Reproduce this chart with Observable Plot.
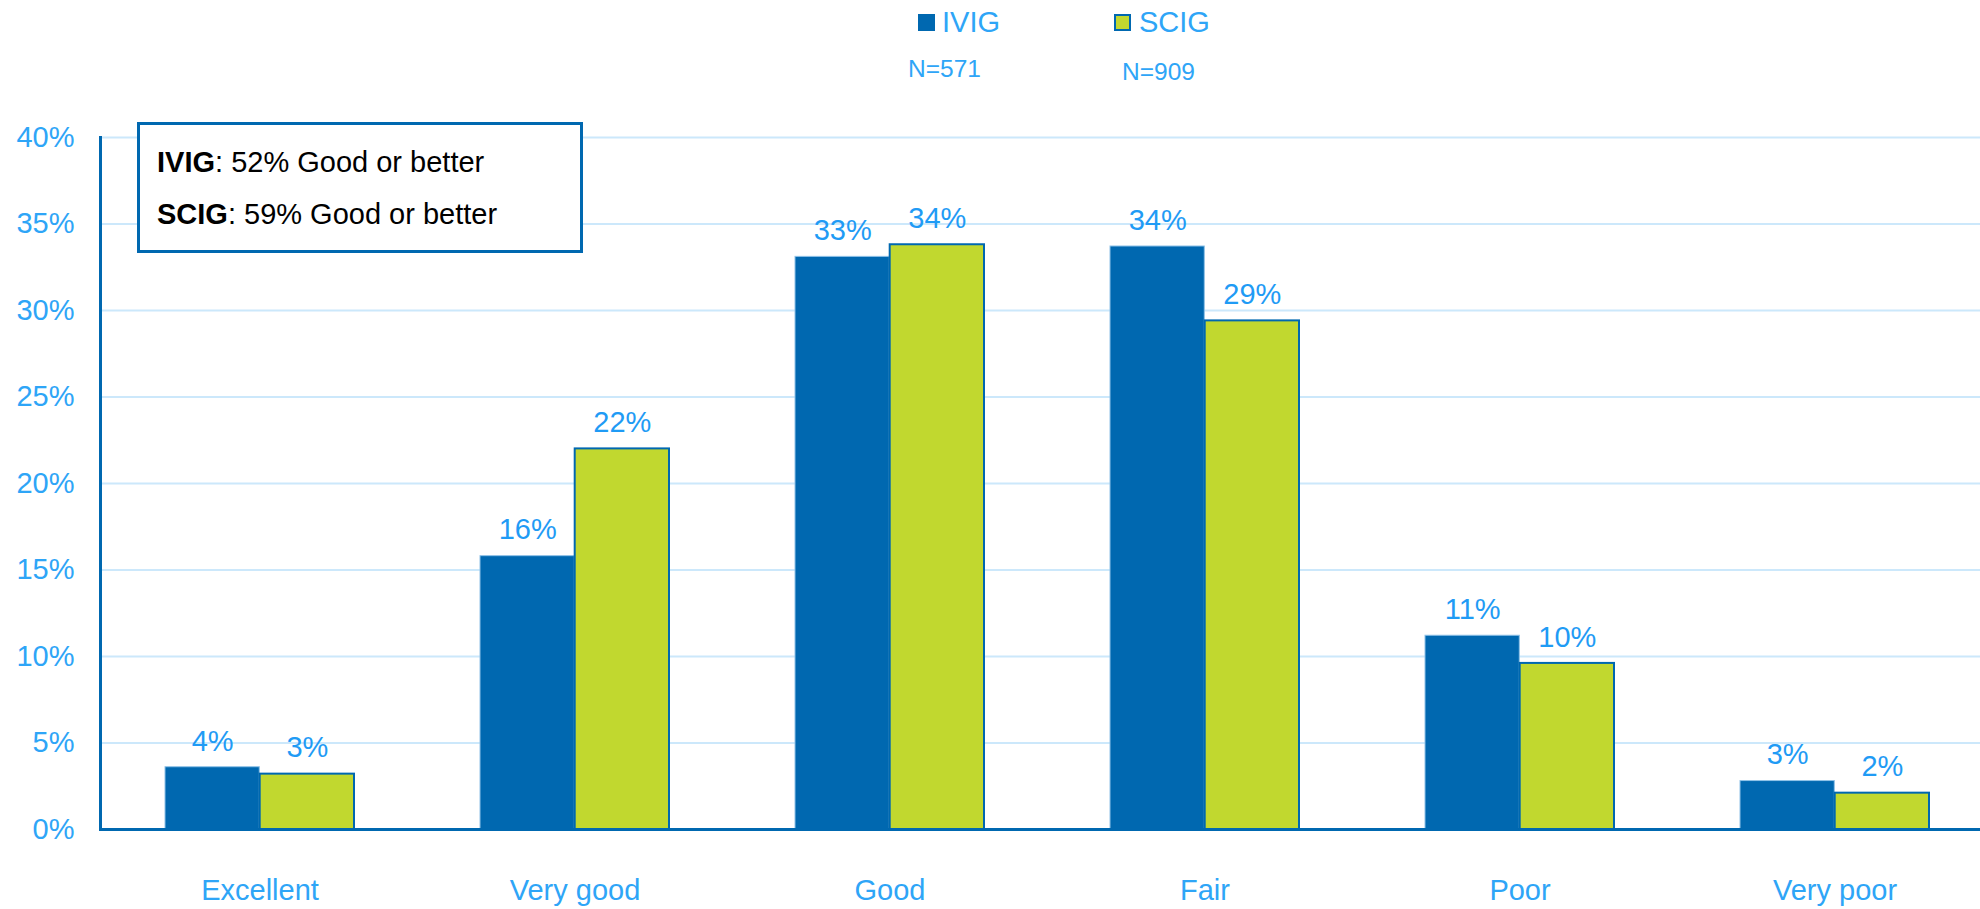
<!DOCTYPE html>
<html>
<head>
<meta charset="utf-8">
<script src="https://cdn.jsdelivr.net/npm/d3@7"></script>
<script src="https://cdn.jsdelivr.net/npm/@observablehq/plot@0.6"></script>
<style>
  html, body { margin: 0; padding: 0; background: #fff; }
  #wrap { position: relative; width: 1980px; height: 909px; font-family: "Liberation Sans", Arial, sans-serif; overflow: hidden; }
  #chart { position: absolute; left: 0; top: 0; }
  .leg { position: absolute; color: #2ea5f7; white-space: nowrap; line-height: 1; }
  .sw { position: absolute; width: 17px; height: 17px; box-sizing: border-box; }
  #note { position: absolute; left: 137px; top: 122px; width: 446px; height: 131px; box-sizing: border-box;
          border: 3px solid #0068b0; background: #fff; color: #000; font-size: 29px; }
  #note div { position: absolute; left: 17px; white-space: nowrap; line-height: 1; }
</style>
</head>
<body>
<div id="wrap">
  <div id="chart"></div>
  <div class="sw" style="left:918px; top:14px; background:#0068b0;"></div>
  <div class="leg" id="l1" style="left:942px; top:8px; font-size:29px;"></div>
  <div class="sw" style="left:1114px; top:14px; background:#c1d82f; border:2px solid #0068b0;"></div>
  <div class="leg" id="l2" style="left:1139px; top:8px; font-size:29px;"></div>
  <div class="leg" id="n1" style="left:908px; top:57px; font-size:24.5px;"></div>
  <div class="leg" id="n2" style="left:1122px; top:60px; font-size:24.5px;"></div>
  <div id="note">
    <div id="t1" style="top:23px;"></div>
    <div id="t2" style="top:75px;"></div>
  </div>
</div>
<script>
const categories = ["Excellent", "Very good", "Good", "Fair", "Poor", "Very poor"];
const seriesNames = ["IVIG", "SCIG"];
const sampleSizes = ["N=571", "N=909"];
const ivigValues = [3.6, 15.8, 33.1, 33.7, 11.2, 2.8];
const scigValues = [3.2, 22.0, 33.8, 29.4, 9.6, 2.1];
const valueLabels = {
  IVIG: ["4%", "16%", "33%", "34%", "11%", "3%"],
  SCIG: ["3%", "22%", "34%", "29%", "10%", "2%"]
};
const noteLines = [
  {bold: "IVIG", rest: ": 52% Good or better"},
  {bold: "SCIG", rest: ": 59% Good or better"}
];
const yTicks = [0, 5, 10, 15, 20, 25, 30, 35, 40];

const rows = [];
categories.forEach((c, i) => {
  rows.push({category: c, series: "IVIG", value: ivigValues[i], label: valueLabels.IVIG[i]});
  rows.push({category: c, series: "SCIG", value: scigValues[i], label: valueLabels.SCIG[i]});
});
const ivigRows = rows.filter(d => d.series === "IVIG");
const scigRows = rows.filter(d => d.series === "SCIG");

const W = 1980, H = 909;
const mL = 100, mR = -14;
const step = (W - mL - mR) / categories.length;
const bw = step * 0.6;
const half = bw / 2;

const labelColor = "#2ea5f7";
const dark = "#0068b0";

const chart = Plot.plot({
  width: W,
  height: H,
  marginLeft: mL,
  marginRight: mR,
  marginTop: 137,
  marginBottom: 80,
  style: {fontFamily: "Liberation Sans, Arial, sans-serif", background: "transparent"},
  x: {type: "band", domain: categories, paddingInner: 0.4, paddingOuter: 0.2, label: null},
  y: {domain: [0, 40], label: null},
  marks: [
    Plot.gridY(yTicks, {stroke: "#cce8fb", strokeOpacity: 1, strokeWidth: 2}),
    Plot.axisY(yTicks, {tickSize: 0, tickPadding: 26, fontSize: 29, fill: labelColor, tickFormat: d => d + "%", label: null}),
    Plot.axisX({tickSize: 0, tickPadding: 50, fontSize: 29, fill: labelColor, label: null}),
    Plot.barY(ivigRows, {x: "category", y: "value", fill: dark, stroke: "#8fc2e8", strokeWidth: 1, insetRight: half}),
    Plot.barY(scigRows, {x: "category", y: "value", fill: "#c1d82f", stroke: dark, strokeWidth: 2, insetLeft: half}),
    Plot.text(ivigRows, {x: "category", y: "value", text: "label", dx: -half / 2, dy: -26, fontSize: 29, fill: "#1f9bf5"}),
    Plot.text(scigRows, {x: "category", y: "value", text: "label", dx: half / 2, dy: -26, fontSize: 29, fill: "#1f9bf5"}),
    Plot.ruleY([0], {stroke: dark, strokeWidth: 3}),
    Plot.frame({anchor: "left", stroke: dark, strokeWidth: 3})
  ]
});
document.getElementById("chart").appendChild(chart);

document.getElementById("l1").textContent = seriesNames[0];
document.getElementById("l2").textContent = seriesNames[1];
document.getElementById("n1").textContent = sampleSizes[0];
document.getElementById("n2").textContent = sampleSizes[1];
["t1", "t2"].forEach((id, i) => {
  const el = document.getElementById(id);
  const b = document.createElement("b");
  b.textContent = noteLines[i].bold;
  el.appendChild(b);
  el.appendChild(document.createTextNode(noteLines[i].rest));
});
</script>
</body>
</html>
